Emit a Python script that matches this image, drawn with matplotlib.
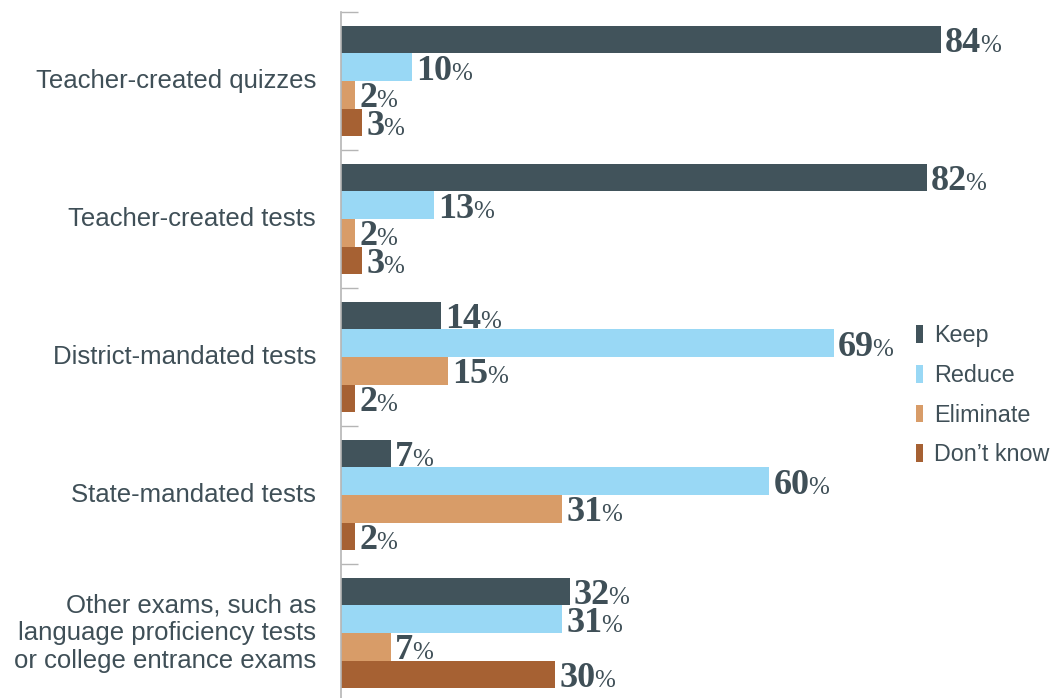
import matplotlib.pyplot as plt
from matplotlib.patches import Patch

categories = [
    'Teacher-created quizzes',
    'Teacher-created tests',
    'District-mandated tests',
    'State-mandated tests',
    'Other exams, such as\nlanguage proficiency tests\nor college entrance exams',
]
series = ['Keep', 'Reduce', 'Eliminate', 'Don\u2019t know']
keep = [84, 82, 14, 7, 32]
reduce_ = [10, 13, 69, 60, 31]
eliminate = [2, 2, 15, 31, 7]
dont_know = [3, 3, 2, 2, 30]
values = [keep, reduce_, eliminate, dont_know]
colors = ['#41535b', '#99d8f5', '#d89c68', '#a66133']
text_color = '#3f4f57'

fig = plt.figure(figsize=(10.53, 6.98), dpi=100)
ax = fig.add_axes([341 / 1053, 0, 712 / 1053, 686 / 698])

group = 5  # 4 bars + half a bar of padding each side
for k, (vals, col) in enumerate(zip(values, colors)):
    ys = [g * group + 1 + k for g in range(len(categories))]
    ax.barh(ys, vals, height=1.0, color=col, label=series[k])

ax.set_xlim(0, 99.7)
ax.set_ylim(686 / 27.6, 0)

for s in ['top', 'right', 'bottom']:
    ax.spines[s].set_visible(False)
ax.spines['left'].set_color('#b5b5b5')
ax.spines['left'].set_linewidth(1.2)
ax.set_xticks([])
ax.set_yticks([g * group for g in range(len(categories))])
ax.set_yticklabels([])
ax.tick_params(axis='y', direction='in', length=12, width=1, color='#b5b5b5')

for g, cat in enumerate(categories):
    ax.annotate(cat, xy=(0, g * group + 2.5), xycoords=('axes fraction', 'data'),
                xytext=(-18, 0), textcoords='offset points', ha='right', va='center',
                fontsize=18.5, family='Liberation Sans', color=text_color,
                linespacing=1.2)

# value labels: bold number followed by a smaller percent sign
nums = []
for k, vals in enumerate(values):
    for g, v in enumerate(vals):
        y = g * group + 1 + k + 0.45
        t = ax.annotate(str(v), xy=(v, y), xytext=(3, 0), textcoords='offset points',
                        ha='left', va='baseline', fontsize=26, fontweight='bold',
                        family='Liberation Serif', color=text_color)
        nums.append((t, y))

fig.canvas.draw()
r = fig.canvas.get_renderer()
for t, y in nums:
    bb = t.get_window_extent(r)
    x = ax.transData.inverted().transform((bb.x1, 0))[0]
    ax.annotate('%', xy=(x, y), xytext=(-1, 0), textcoords='offset points',
                ha='left', va='baseline', fontsize=18, family='Liberation Serif',
                color=text_color)

handles = [Patch(facecolor=c, edgecolor='none') for c in colors]
leg = fig.legend(handles, series, loc='upper left', bbox_to_anchor=(916 / 1053, 1 - 324 / 698),
                 frameon=False, prop={'family': 'Liberation Sans', 'size': 16.8},
                 handlelength=0.32, handleheight=0.8, handletextpad=0.45,
                 labelspacing=0.72, borderpad=0, borderaxespad=0)
for txt in leg.get_texts():
    txt.set_color(text_color)

fig.savefig('out.png', dpi=100)
